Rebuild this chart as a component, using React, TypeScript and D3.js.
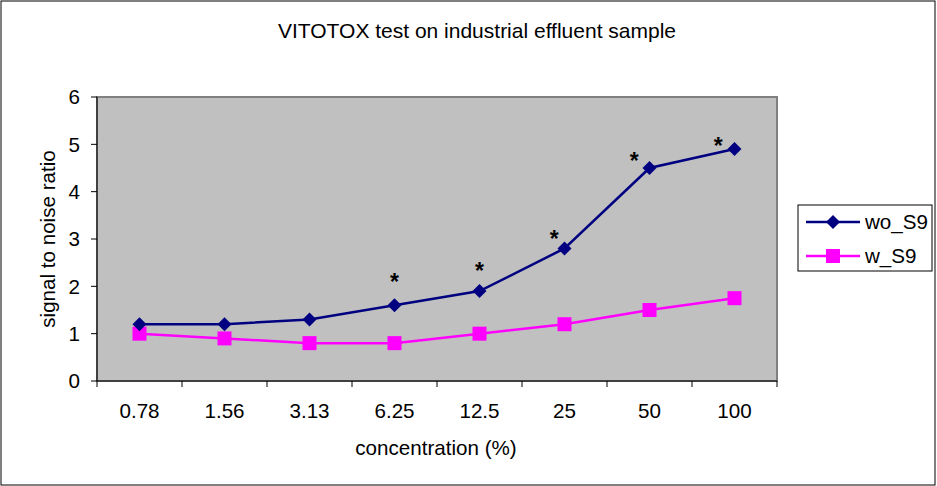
import React from "react";
import * as d3 from "d3";

const categories = ["0.78", "1.56", "3.13", "6.25", "12.5", "25", "50", "100"];
const woS9 = [1.2, 1.2, 1.3, 1.6, 1.9, 2.8, 4.5, 4.9];
const wS9 = [1.0, 0.9, 0.8, 0.8, 1.0, 1.2, 1.5, 1.75];
const yTicks = [0, 1, 2, 3, 4, 5, 6];
// significance markers: category, value of mark centre, shift within band (fraction of band)
const starCats = ["6.25", "12.5", "25", "50", "100"];
const starValues = [2.2, 2.43, 3.1, 4.75, 5.07];
const starShift = [0.0, 0.0, -0.12, -0.18, -0.19];

const W = 937, H = 486;
const M = { left: 97, right: 777, top: 97, bottom: 381 };
const font = "'Liberation Sans', Arial, sans-serif";
const FS = 20.6;

export default function App() {
  const x = d3.scaleBand<string>().domain(categories).range([M.left, M.right]);
  const y = d3.scaleLinear().domain([0, 6]).range([M.bottom, M.top]);
  const cx = (c: string) => (x(c) as number) + x.bandwidth() / 2;
  const line = d3.line<number>().x((_, i) => cx(categories[i])).y((d) => y(d));
  const navy = "#000080";
  const mag = "#FF00FF";
  const bounds = categories.map((c) => x(c) as number).concat([M.right]);

  return (
    <svg width={W} height={H} style={{ position: "absolute", left: 0, top: 0, background: "#fff" }} fontFamily={font}>
      <rect x={1} y={1} width={W - 3} height={H - 2} fill="#fff" stroke="#000" strokeWidth={1} />
      <text x={477} y={38} textAnchor="middle" fontSize={21}>VITOTOX test on industrial effluent sample</text>
      <rect x={M.left} y={M.top} width={M.right - M.left} height={M.bottom - M.top} fill="#C0C0C0" stroke="#808080" strokeWidth={2} />
      {/* y axis */}
      <line x1={M.left} x2={M.left} y1={M.top} y2={M.bottom} stroke="#000" strokeWidth={1} />
      {yTicks.map((t) => (
        <g key={t}>
          <line x1={M.left - 6} x2={M.left} y1={y(t)} y2={y(t)} stroke="#000" />
          <text x={80} y={y(t)} dy="0.36em" textAnchor="end" fontSize={FS}>{t}</text>
        </g>
      ))}
      {/* x axis */}
      <line x1={M.left} x2={M.right} y1={M.bottom} y2={M.bottom} stroke="#000" strokeWidth={1} />
      {bounds.map((b, i) => (
        <line key={i} x1={b} x2={b} y1={M.bottom} y2={M.bottom + 6} stroke="#000" />
      ))}
      {categories.map((c) => (
        <text key={c} x={cx(c)} y={418} textAnchor="middle" fontSize={FS}>{c}</text>
      ))}
      <text x={436} y={455} textAnchor="middle" fontSize={FS}>concentration (%)</text>
      <text transform={`translate(55,${(M.top + M.bottom) / 2}) rotate(-90)`} textAnchor="middle" fontSize={FS}>signal to noise ratio</text>
      {/* series */}
      <path d={line(wS9) as string} fill="none" stroke={mag} strokeWidth={2.5} />
      {wS9.map((v, i) => (
        <rect key={i} x={cx(categories[i]) - 7} y={y(v) - 7} width={14} height={14} fill={mag} />
      ))}
      <path d={line(woS9) as string} fill="none" stroke={navy} strokeWidth={2.5} />
      {woS9.map((v, i) => (
        <path key={i} d={`M${cx(categories[i])},${y(v) - 7}l7,7l-7,7l-7,-7z`} fill={navy} />
      ))}
      {starCats.map((c, i) => (
        <text key={c} x={cx(c) + starShift[i] * x.bandwidth()} y={y(starValues[i]) + 13} textAnchor="middle" fontSize={23} fontWeight="bold">*</text>
      ))}
      {/* legend */}
      <rect x={798} y={205} width={134} height={66} fill="#fff" stroke="#000" strokeWidth={1} />
      <line x1={806} x2={860} y1={222} y2={222} stroke={navy} strokeWidth={2.5} />
      <path d="M833,215l7,7l-7,7l-7,-7z" fill={navy} />
      <text x={865} y={222} dy="0.36em" fontSize={FS}>wo_S9</text>
      <line x1={806} x2={860} y1={256} y2={256} stroke={mag} strokeWidth={2.5} />
      <rect x={826} y={249} width={14} height={14} fill={mag} />
      <text x={865} y={256} dy="0.36em" fontSize={FS}>w_S9</text>
    </svg>
  );
}
